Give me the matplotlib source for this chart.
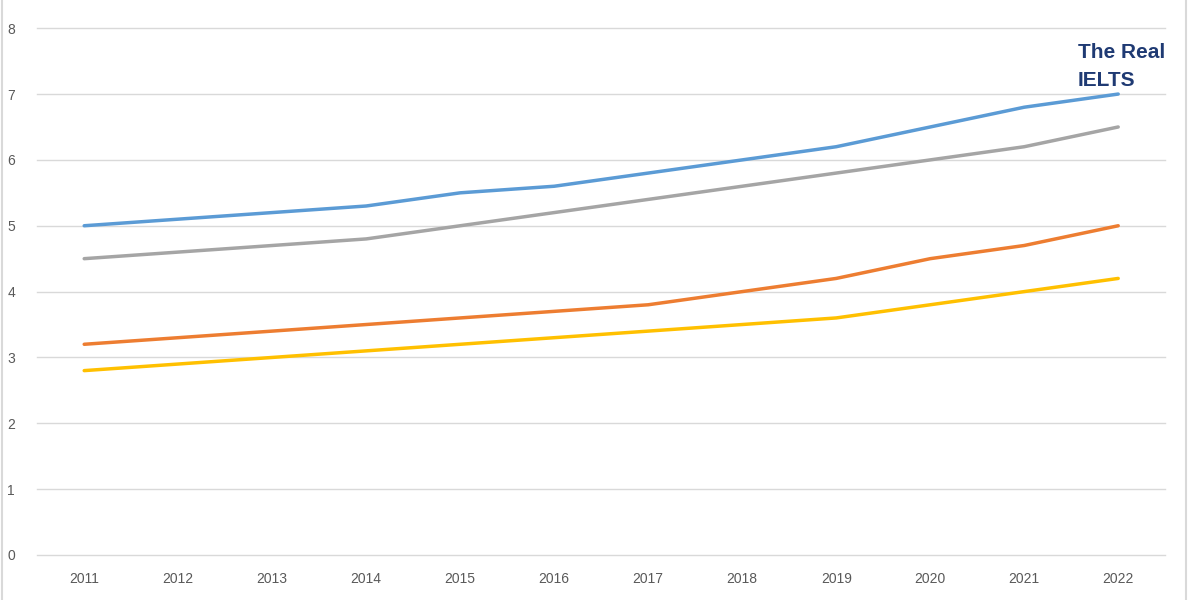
import matplotlib
matplotlib.use("Agg")
import matplotlib.pyplot as plt
from matplotlib.lines import Line2D

years = ['2011', '2012', '2013', '2014', '2015', '2016',
         '2017', '2018', '2019', '2020', '2021', '2022']

blue_vals = [5.0, 5.1, 5.2, 5.3, 5.5, 5.6, 5.8, 6.0, 6.2, 6.5, 6.8, 7.0]
orange_vals = [3.2, 3.3, 3.4, 3.5, 3.6, 3.7, 3.8, 4.0, 4.2, 4.5, 4.7, 5.0]
gray_vals = [4.5, 4.6, 4.7, 4.8, 5.0, 5.2, 5.4, 5.6, 5.8, 6.0, 6.2, 6.5]
yellow_vals = [2.8, 2.9, 3.0, 3.1, 3.2, 3.3, 3.4, 3.5, 3.6, 3.8, 4.0, 4.2]

series = [
    (blue_vals, '#5B9BD5'),
    (orange_vals, '#ED7D31'),
    (gray_vals, '#A5A5A5'),
    (yellow_vals, '#FFC000'),
]

plt.rcParams['font.family'] = ['Liberation Sans', 'DejaVu Sans']

fig = plt.figure(figsize=(12, 6), dpi=100)
ax = fig.add_axes([0.031, 0.075, 0.94, 0.878])

x = list(range(len(years)))
for vals, col in series:
    ax.plot(x, vals, color=col, linewidth=2.5, solid_capstyle='round')

ax.set_xlim(-0.5, len(years) - 0.5)
ax.set_ylim(0, 8)
ax.set_yticks(range(0, 9))
ax.set_xticks(x)
ax.set_xticklabels(years)
ax.grid(axis='y', color='#D9D9D9', linewidth=1)
for gl in ax.get_ygridlines():
    gl.set_clip_on(False)
ax.set_axisbelow(True)
for s in ax.spines.values():
    s.set_visible(False)
ax.tick_params(axis='both', length=0, labelcolor='#595959', labelsize=10)
ax.tick_params(axis='x', pad=12)
ax.tick_params(axis='y', pad=16)

# thin frame lines at the image edges
fig.add_artist(Line2D([0.002, 0.002], [0, 1], color='#D9D9D9', lw=1.5, transform=fig.transFigure))
fig.add_artist(Line2D([0.988, 0.988], [0, 1], color='#D9D9D9', lw=1.5, transform=fig.transFigure))

# watermark
fig.text(0.898, 0.912, 'The Real', color='#1F3A73', fontsize=15, fontweight='bold', ha='left', va='center')
fig.text(0.898, 0.865, 'IELTS', color='#1F3A73', fontsize=15, fontweight='bold', ha='left', va='center')

fig.savefig('out.png', dpi=100)
